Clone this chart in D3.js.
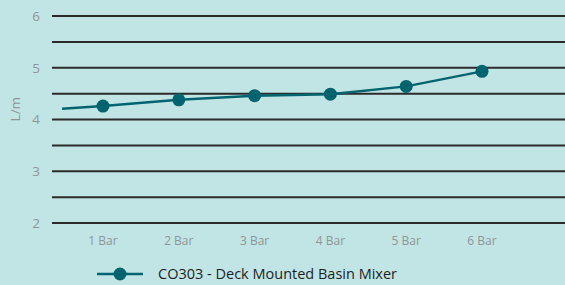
<!DOCTYPE html>
<html>
<head>
<meta charset="utf-8">
<script src="https://cdn.jsdelivr.net/npm/d3@7"></script>
<style>
  body { margin: 0; background: #c1e5e4; }
  svg { display: block; font-family: "Open Sans", Lato, sans-serif; }
</style>
</head>
<body>
<svg id="chart"></svg>
<script>
const width = 565, height = 285;

// DATA
const categories = ["1 Bar", "2 Bar", "3 Bar", "4 Bar", "5 Bar", "6 Bar"];
const flowValues = [4.26, 4.38, 4.46, 4.49, 4.64, 4.93];
// the line runs in from the left before the first marker
const lineStart = {pos: 0.46, value: 4.21};
const yTicks = [2, 3, 4, 5, 6];
const gridLines = [2, 2.5, 3, 3.5, 4, 4.5, 5, 5.5, 6];
const seriesName = "CO303 - Deck Mounted Basin Mixer";
const yLabel = "L/m";

const lineColor = "#00646f";
const labelColor = "#8f9597";

const svg = d3.select("#chart")
    .attr("width", width)
    .attr("height", height);

svg.append("rect")
    .attr("width", width)
    .attr("height", height)
    .attr("fill", "#c1e5e4");

// category index 1..6 on a linear scale
const x = d3.scaleLinear()
    .domain([1, 6])
    .range([103, 482]);
const y = d3.scaleLinear()
    .domain([2, 6])
    .range([223, 16]);

// gridlines
svg.append("g")
  .selectAll("line")
  .data(gridLines)
  .join("line")
    .attr("x1", 52)
    .attr("x2", width)
    .attr("y1", d => y(d))
    .attr("y2", d => y(d))
    .attr("stroke", "#2b2b2b")
    .attr("stroke-width", 2);

// y axis labels
svg.append("g")
  .selectAll("text")
  .data(yTicks)
  .join("text")
    .attr("x", 40)
    .attr("y", d => y(d))
    .attr("dy", "0.36em")
    .attr("text-anchor", "end")
    .attr("fill", labelColor)
    .attr("font-size", 13.5)
    .text(d => d);

svg.append("text")
    .attr("transform", `translate(20, ${y(4.2)}) rotate(-90)`)
    .attr("text-anchor", "middle")
    .attr("fill", labelColor)
    .attr("font-size", 13.5)
    .text(yLabel);

// x axis labels
svg.append("g")
  .selectAll("text")
  .data(categories)
  .join("text")
    .attr("x", (d, i) => x(i + 1))
    .attr("y", 241)
    .attr("dy", "0.35em")
    .attr("text-anchor", "middle")
    .attr("fill", labelColor)
    .attr("font-size", 12)
    .text(d => d);

// series line
const points = [[lineStart.pos, lineStart.value]]
    .concat(flowValues.map((v, i) => [i + 1, v]));

svg.append("path")
    .datum(points)
    .attr("fill", "none")
    .attr("stroke", lineColor)
    .attr("stroke-width", 2.5)
    .attr("d", d3.line()
      .x(d => x(d[0]))
      .y(d => y(d[1]))
    );

svg.append("g")
  .selectAll("circle")
  .data(flowValues)
  .join("circle")
    .attr("cx", (d, i) => x(i + 1))
    .attr("cy", d => y(d))
    .attr("r", 6.5)
    .attr("fill", lineColor);

// legend
const legend = svg.append("g")
    .attr("transform", "translate(97, 274)");
legend.append("line")
    .attr("x1", 0)
    .attr("x2", 46)
    .attr("stroke", lineColor)
    .attr("stroke-width", 2.5);
legend.append("circle")
    .attr("cx", 23)
    .attr("r", 6.5)
    .attr("fill", lineColor);
legend.append("text")
    .attr("x", 61)
    .attr("dy", "0.35em")
    .attr("fill", "#1e1e1e")
    .attr("font-size", 14.5)
    .text(seriesName);
</script>
</body>
</html>
